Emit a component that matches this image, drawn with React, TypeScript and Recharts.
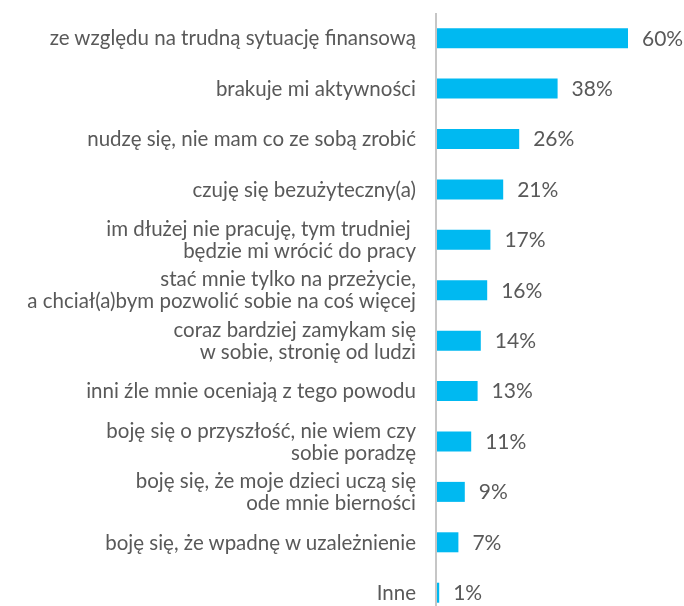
import { BarChart, Bar, XAxis, YAxis, LabelList } from "recharts";

const categories = [
  "ze względu na trudną sytuację finansową",
  "brakuje mi aktywności",
  "nudzę się, nie mam co ze sobą zrobić",
  "czuję się bezużyteczny(a)",
  "im dłużej nie pracuję, tym trudniej |będzie mi wrócić do pracy",
  "stać mnie tylko na przeżycie,|a chciał(a)bym pozwolić sobie na coś więcej",
  "coraz bardziej zamykam się|w sobie, stronię od ludzi",
  "inni źle mnie oceniają z tego powodu",
  "boję się o przyszłość, nie wiem czy|sobie poradzę",
  "boję się, że moje dzieci uczą się|ode mnie bierności",
  "boję się, że wpadnę w uzależnienie",
  "Inne",
];

const values = [60, 38, 26, 21, 17, 16, 14, 13, 11, 9, 7, 1];

const data = categories.map((name, i) => ({ name, value: values[i] }));

const TEXT = "#595959";
const FONT = "Lato, 'Noto Sans', sans-serif";

const CategoryTick = (props: any) => {
  const { x, y, payload } = props;
  const lines: string[] = String(payload.value).split("|");
  const lh = 22;
  const start = -((lines.length - 1) * lh) / 2;
  return (
    <g transform={`translate(${x},${y})`}>
      {lines.map((line, i) => (
        <text
          key={i}
          x={-12}
          y={start + i * lh}
          dy="0.35em"
          textAnchor="end"
          fill={TEXT}
          fontSize={20.5}
          fontFamily={FONT}
          style={{ whiteSpace: "pre" }}
        >
          {line}
        </text>
      ))}
    </g>
  );
};

const App = () => {
  // fixed box so the tall chart never adds a scrollbar
  return (
    <div
      style={{
        position: "fixed",
        top: 8,
        left: 8,
        width: 676,
        height: 598,
        overflow: "hidden",
      }}
    >
      <BarChart
        width={676}
        height={610}
        data={data}
        layout="vertical"
        margin={{ top: 5, right: 56, left: 0, bottom: 0 }}
        barCategoryGap="30%"
      >
        <XAxis type="number" domain={[0, 60]} hide />
        <YAxis
          type="category"
          dataKey="name"
          width={428}
          tickLine={false}
          axisLine={{ stroke: "#c6c6c6", strokeWidth: 2 }}
          tick={<CategoryTick />}
          interval={0}
        />
        <Bar dataKey="value" fill="#00b9f1" isAnimationActive={false}>
          <LabelList
            dataKey="value"
            position="right"
            offset={14}
            formatter={(v: any) => `${v}%`}
            fill={TEXT}
            fontSize={21}
            fontFamily={FONT}
          />
        </Bar>
      </BarChart>
    </div>
  );
};

export default App;
